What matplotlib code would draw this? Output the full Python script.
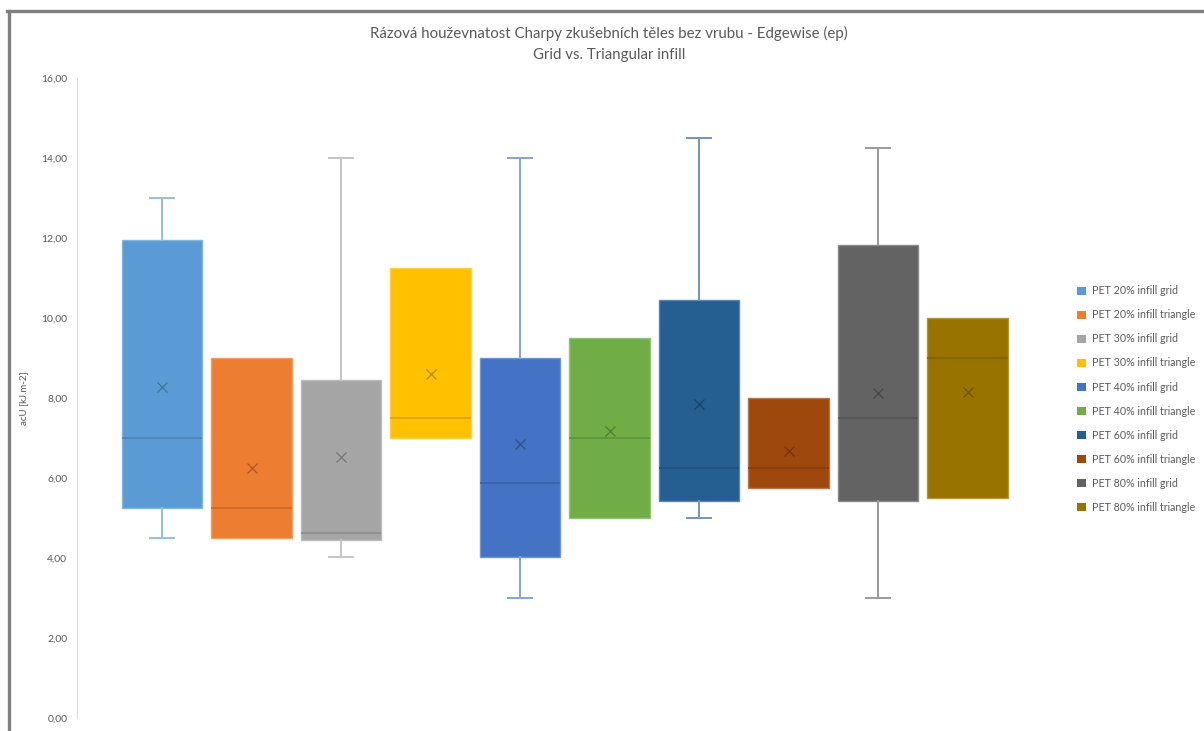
import numpy as np
import matplotlib
matplotlib.use("Agg")
import matplotlib.pyplot as plt
from matplotlib.lines import Line2D
from matplotlib.patches import Patch
from matplotlib.colors import to_rgb

plt.rcParams['font.family'] = ['Lato', 'DejaVu Sans']

# data (kJ.m-2)
labels = ['PET 20% infill grid', 'PET 20% infill triangle',
          'PET 30% infill grid', 'PET 30% infill triangle',
          'PET 40% infill grid', 'PET 40% infill triangle',
          'PET 60% infill grid', 'PET 60% infill triangle',
          'PET 80% infill grid', 'PET 80% infill triangle']
whis_lo = [4.50, 4.50, 4.02, 7.00, 3.00, 5.00, 5.00, 5.75, 3.00, 5.50]
q1 = [5.25, 4.50, 4.45, 7.00, 4.02, 5.00, 5.43, 5.75, 5.43, 5.50]
median = [7.00, 5.26, 4.63, 7.50, 5.88, 7.00, 6.25, 6.25, 7.50, 9.00]
q3 = [11.95, 9.00, 8.45, 11.25, 9.00, 9.50, 10.45, 8.00, 11.82, 10.00]
whis_hi = [13.00, 9.00, 14.00, 11.25, 14.00, 9.50, 14.50, 8.00, 14.25, 10.00]
mean = [8.27, 6.26, 6.53, 8.60, 6.84, 7.18, 7.85, 6.68, 8.13, 8.16]
colors = ['#5B9BD5', '#ED7D31', '#A5A5A5', '#FFC000', '#4472C4',
          '#70AD47', '#255E91', '#9E480E', '#636363', '#997300']

def tint(c, f):
    r = np.array(to_rgb(c))
    return tuple(r + (1 - r) * f)

def shade(c, f):
    return tuple(np.array(to_rgb(c)) * f)

stats = []
for i in range(len(labels)):
    stats.append(dict(label=labels[i], whislo=whis_lo[i], q1=q1[i], med=median[i],
                      q3=q3[i], whishi=whis_hi[i], mean=mean[i], fliers=[]))

fig = plt.figure(figsize=(12.04, 7.31), dpi=100)
ax = fig.add_axes([77 / 1204, 13 / 731, 976 / 1204, 640 / 731])

pos = np.arange(len(labels))
art = ax.bxp(stats, positions=pos, widths=0.9, patch_artist=True, showmeans=True,
             showfliers=False, capwidths=0.27)

for i, c in enumerate(colors):
    art['boxes'][i].set_facecolor(c)
    art['boxes'][i].set_edgecolor(tint(c, 0.25))
    art['boxes'][i].set_linewidth(1.0)
    art['medians'][i].set_color(shade(c, 0.85))
    art['medians'][i].set_linewidth(1.2)
    art['means'][i].set_marker('x')
    art['means'][i].set_markersize(7)
    art['means'][i].set_markeredgecolor(shade(c, 0.72))
    art['means'][i].set_markeredgewidth(0.9)
    wc = tint(c, 0.35)
    for k in (2 * i, 2 * i + 1):
        art['whiskers'][k].set_color(wc)
        art['whiskers'][k].set_linewidth(1.4)
        art['caps'][k].set_color(wc)
        art['caps'][k].set_linewidth(1.4)
    if whis_lo[i] >= q1[i]:
        art['caps'][2 * i].set_visible(False)
        art['whiskers'][2 * i].set_visible(False)
    if whis_hi[i] <= q3[i]:
        art['caps'][2 * i + 1].set_visible(False)
        art['whiskers'][2 * i + 1].set_visible(False)

ax.set_xlim(-0.95, 9.955)
ax.set_ylim(0, 16)
ax.set_yticks(np.arange(0, 17, 2))
ax.set_yticklabels([f"{v:.2f}".replace('.', ',') for v in np.arange(0, 17, 2)])
ax.set_xticks([])
ax.tick_params(axis='y', length=0, pad=7, labelsize=7.5, labelcolor='#595959')
for s in ('top', 'right', 'bottom'):
    ax.spines[s].set_visible(False)
ax.spines['left'].set_color('#D9D9D9')
ax.set_ylabel('acU [kJ.m-2]', fontsize=7, color='#595959')
ax.yaxis.set_label_coords(-49 / 976, 0.5)

fig.text(609 / 1204, 1 - 44 / 731, 'Rázová houževnatost Charpy zkušebních těles bez vrubu - Edgewise (ep)\nGrid vs. Triangular infill',
         ha='center', va='center', fontsize=10.85, color='#595959', linespacing=1.6)

handles = [Patch(facecolor=c, edgecolor='none') for c in colors]
fig.legend(handles, labels, loc='upper left', bbox_to_anchor=(1072 / 1204, 1 - 280 / 731),
           frameon=False, fontsize=7.7, labelcolor='#595959', handlelength=0.8,
           handleheight=0.8, handletextpad=0.55, labelspacing=1.22, borderpad=0)

# dark frame at the top and left of the screenshot
fig.add_artist(Line2D([8.5 / 1204, 8.5 / 1204], [0, 1 - 10.5 / 731], color='#808080', lw=2.4))
fig.add_artist(Line2D([7 / 1204, 1], [1 - 10.5 / 731, 1 - 10.5 / 731], color='#808080', lw=2.4))

fig.savefig('out.png', dpi=100)
